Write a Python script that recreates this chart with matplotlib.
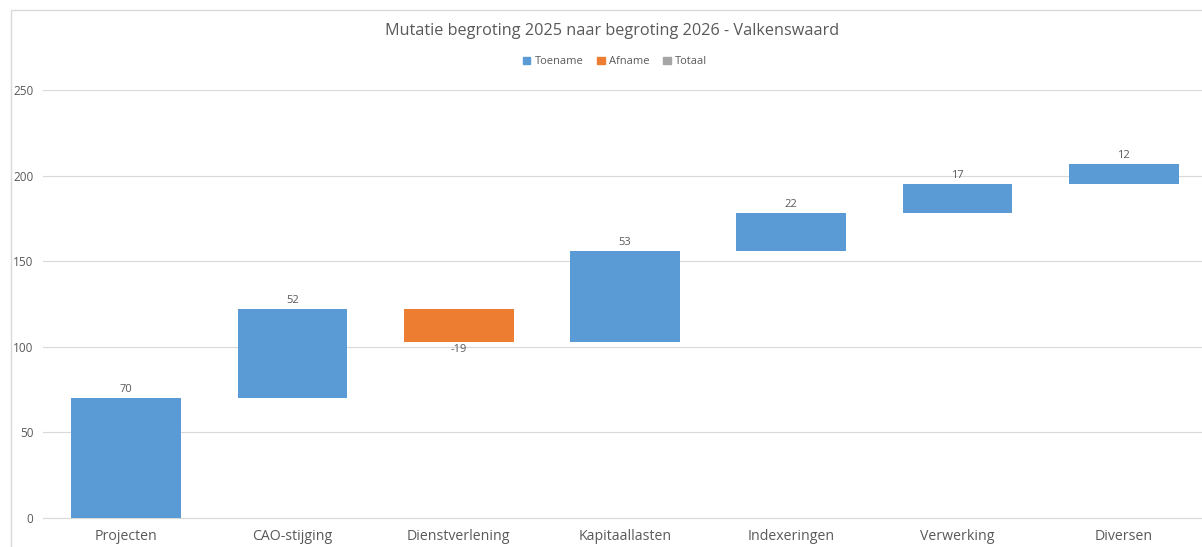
import matplotlib
matplotlib.use('Agg')
import matplotlib.pyplot as plt
from matplotlib.patches import Rectangle, Patch

# gegevens
categorieen = ['Projecten', 'CAO-stijging', 'Dienstverlening', 'Kapitaallasten',
               'Indexeringen', 'Verwerking', 'Diversen']
mutaties = [70, 52, -19, 53, 22, 17, 12]
y_ticks = [0, 50, 100, 150, 200, 250]

blauw = '#5B9BD5'
oranje = '#ED7D31'
grijs = '#A5A5A5'
tekst = '#595959'

plt.rcParams['font.family'] = ['Open Sans', 'DejaVu Sans']

fig = plt.figure(figsize=(12.02, 5.47), dpi=100)
ax = fig.add_axes([43 / 1202, 29 / 547, 1164 / 1202, 428 / 547])

# rand van het grafiekgebied
fig.patches.append(Rectangle((11 / 1202, -0.1), 1.2, (547 - 10) / 547 + 0.1,
                             transform=fig.transFigure, fill=False,
                             edgecolor='#D9D9D9', linewidth=1))

# watervalberekening
basis = []
totaal = 0
for m in mutaties:
    if m >= 0:
        basis.append(totaal)
    else:
        basis.append(totaal + m)
    totaal += m

x = range(len(categorieen))
hoogtes = [abs(m) for m in mutaties]
kleuren = [blauw if m >= 0 else oranje for m in mutaties]
ax.bar(x, hoogtes, bottom=basis, width=0.66, color=kleuren, zorder=3)

for i, m in enumerate(mutaties):
    if m >= 0:
        ax.annotate(str(m), (i, basis[i] + hoogtes[i]), xytext=(0, 2),
                    textcoords='offset points', ha='center', va='bottom',
                    fontsize=8, color=tekst)
    else:
        ax.annotate(str(m), (i, basis[i]), xytext=(0, -2),
                    textcoords='offset points', ha='center', va='top',
                    fontsize=8, color=tekst)

ax.set_xlim(-0.5, len(categorieen) - 0.5)
ax.set_ylim(0, 250)
ax.set_yticks(y_ticks)
ax.set_xticks(list(x))
ax.set_xticklabels(categorieen, fontsize=10.2, color=tekst)
ax.tick_params(axis='y', length=0, pad=7, labelsize=8.5, labelcolor=tekst)
ax.tick_params(axis='x', length=0, pad=8)
ax.grid(axis='y', color='#D9D9D9', linewidth=0.8, zorder=0)
for s in ['top', 'right', 'left']:
    ax.spines[s].set_visible(False)
ax.spines['bottom'].set_color('#D9D9D9')

fig.text(612 / 1202, 1 - 31 / 547, 'Mutatie begroting 2025 naar begroting 2026 - Valkenswaard',
         ha='center', va='center', fontsize=11.7, color=tekst)

handles = [Patch(color=blauw, label='Toename'), Patch(color=oranje, label='Afname'),
           Patch(color=grijs, label='Totaal')]
leg = fig.legend(handles=handles, loc='center', bbox_to_anchor=(615 / 1202, 1 - 62 / 547),
                 ncol=3, frameon=False, fontsize=8, handlelength=0.7, handleheight=0.7,
                 handletextpad=0.4, columnspacing=1.2)
for t in leg.get_texts():
    t.set_color(tekst)

fig.savefig('out.png', dpi=100)
